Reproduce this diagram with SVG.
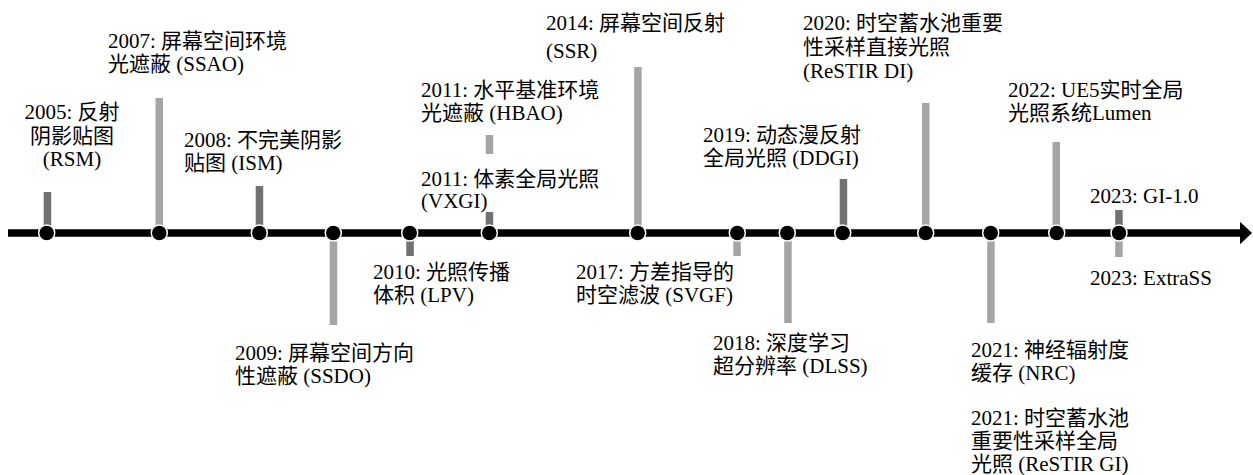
<svg xmlns="http://www.w3.org/2000/svg" width="1253" height="475" viewBox="0 0 1253 475">
<defs>
<style>
.t{font-family:'Liberation Serif','Times New Roman','DejaVu Serif','Noto Sans CJK SC',serif;font-size:21px;fill:#000}
.d{fill:#717171}
.l{fill:#a5a5a5}
.dot{fill:#000;stroke:#fff;stroke-width:1.5}
</style>
<marker id="ah" markerWidth="3" markerHeight="3" refX="0" refY="1.5" orient="auto" markerUnits="strokeWidth">
<path d="M0,0 L1.6,1.5 L0,3 z" fill="#000"/>
</marker>
</defs>
<rect width="1253" height="475" fill="#fff"/>
<g id="connectors">
<line x1="8" y1="233" x2="1240" y2="233" stroke="#000" stroke-width="7.5" marker-end="url(#ah)"/>
</g>
<g class="t" font-family="'Liberation Serif','Noto Sans CJK SC',serif">
<g id="n2005"><rect class="d" x="43.7" y="192" width="7.5" height="41"/><circle class="dot" cx="46.7" cy="233" r="8"/>
<text text-anchor="middle"><tspan x="72" y="119">2005: 反射</tspan><tspan x="72" y="143">阴影贴图</tspan><tspan x="72" y="166">(RSM)</tspan></text></g>
<g id="n2007"><rect class="l" x="155.5" y="98" width="7.5" height="135"/><circle class="dot" cx="159.3" cy="233" r="8"/>
<text><tspan x="108" y="48">2007: 屏幕空间环境</tspan><tspan x="108" y="71">光遮蔽 (SSAO)</tspan></text></g>
<g id="n2008"><rect class="d" x="255.7" y="186" width="7.5" height="47"/><circle class="dot" cx="259.3" cy="233" r="8"/>
<text><tspan x="184" y="147">2008: 不完美阴影</tspan><tspan x="184" y="170">贴图 (ISM)</tspan></text></g>
<g id="n2009"><rect class="l" x="329.7" y="233" width="7.5" height="92"/><circle class="dot" cx="333.3" cy="233" r="8"/>
<text><tspan x="235" y="360">2009: 屏幕空间方向</tspan><tspan x="235" y="383">性遮蔽 (SSDO)</tspan></text></g>
<g id="n2010"><rect class="d" x="406.3" y="233" width="7.5" height="23"/><circle class="dot" cx="409.7" cy="233" r="8"/>
<text><tspan x="373" y="279">2010: 光照传播</tspan><tspan x="373" y="302">体积 (LPV)</tspan></text></g>
<g id="n2011a"><rect class="l" x="485.7" y="135" width="7.5" height="19"/>
<text><tspan x="421" y="97">2011: 水平基准环境</tspan><tspan x="421" y="120">光遮蔽 (HBAO)</tspan></text></g>
<g id="n2011b"><rect class="d" x="485.7" y="212" width="7.5" height="21"/><circle class="dot" cx="489.3" cy="233" r="8"/>
<text><tspan x="421" y="186">2011: 体素全局光照</tspan><tspan x="421" y="208">(VXGI)</tspan></text></g>
<g id="n2014"><rect class="l" x="634.2" y="67" width="7.5" height="166"/><circle class="dot" cx="637.7" cy="233" r="8"/>
<text><tspan x="546" y="30">2014: 屏幕空间反射</tspan><tspan x="546" y="58">(SSR)</tspan></text></g>
<g id="n2017"><rect class="l" x="733.3" y="233" width="7.5" height="23"/><circle class="dot" cx="737.3" cy="233" r="8"/>
<text><tspan x="576" y="279">2017: 方差指导的</tspan><tspan x="576" y="302">时空滤波 (SVGF)</tspan></text></g>
<g id="n2018"><rect class="l" x="784.2" y="233" width="7.5" height="90"/><circle class="dot" cx="787.3" cy="233" r="8"/>
<text><tspan x="713" y="350">2018: 深度学习</tspan><tspan x="713" y="373">超分辨率 (DLSS)</tspan></text></g>
<g id="n2019"><rect class="d" x="839.7" y="179" width="7.5" height="54"/><circle class="dot" cx="842.7" cy="233" r="8"/>
<text><tspan x="703" y="142">2019: 动态漫反射</tspan><tspan x="703" y="165">全局光照 (DDGI)</tspan></text></g>
<g id="n2020"><rect class="l" x="922" y="103" width="7.5" height="130"/><circle class="dot" cx="925.7" cy="233" r="8"/>
<text><tspan x="803" y="30">2020: 时空蓄水池重要</tspan><tspan x="803" y="54">性采样直接光照</tspan><tspan x="803" y="78">(ReSTIR DI)</tspan></text></g>
<g id="n2021a"><rect class="l" x="987.2" y="233" width="7.5" height="90"/><circle class="dot" cx="990.7" cy="233" r="8"/>
<text><tspan x="971" y="357">2021: 神经辐射度</tspan><tspan x="971" y="380">缓存 (NRC)</tspan></text></g>
<g id="n2021b">
<text><tspan x="971" y="425">2021: 时空蓄水池</tspan><tspan x="971" y="448">重要性采样全局</tspan><tspan x="971" y="471">光照 (ReSTIR GI)</tspan></text></g>
<g id="n2022"><rect class="l" x="1052.5" y="142" width="7.5" height="91"/><circle class="dot" cx="1056.7" cy="233" r="8"/>
<text><tspan x="1008" y="97">2022: UE5实时全局</tspan><tspan x="1008" y="120">光照系统Lumen</tspan></text></g>
<g id="n2023a"><rect class="d" x="1115.2" y="210" width="7.5" height="23"/>
<text x="1090" y="203">2023: GI-1.0</text></g>
<g id="n2023b"><rect class="l" x="1115.2" y="233" width="7.5" height="24"/><circle class="dot" cx="1119" cy="233" r="8"/>
<text x="1090" y="285">2023: ExtraSS</text></g>
</g>
</svg>
